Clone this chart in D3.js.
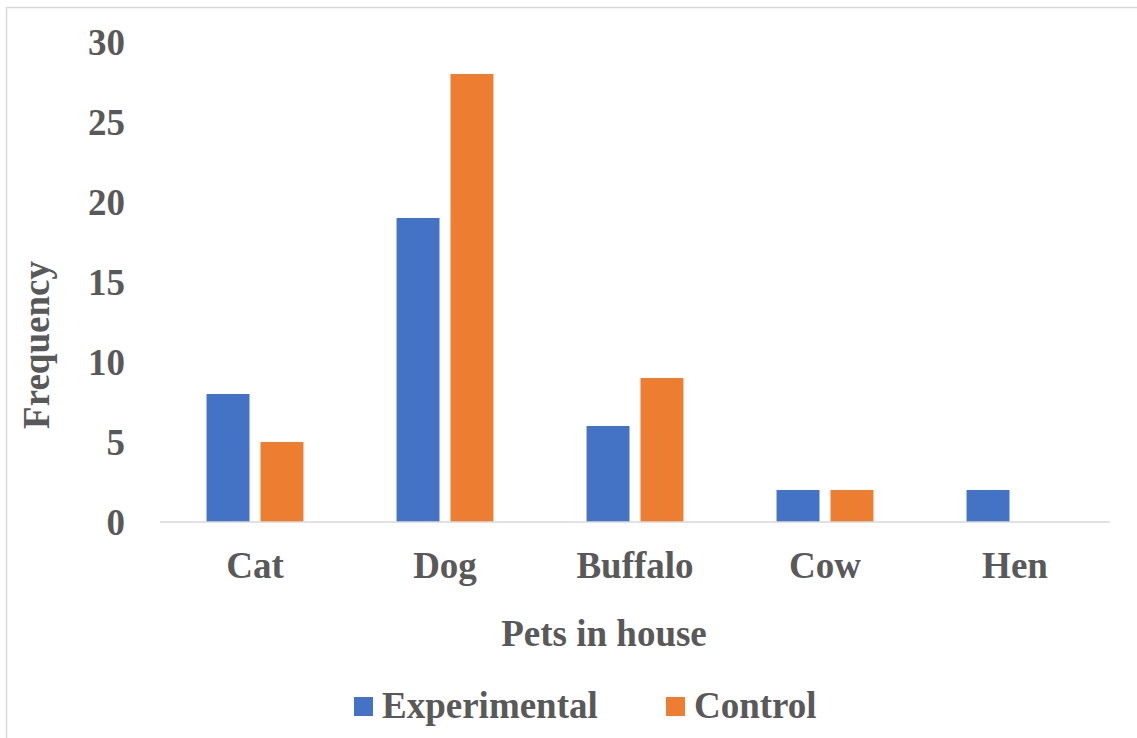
<!DOCTYPE html>
<html>
<head>
<meta charset="utf-8">
<script src="https://cdn.jsdelivr.net/npm/d3@7"></script>
<style>
  html, body { margin: 0; padding: 0; background: #fff; }
  svg { display: block; }
  text { font-family: "Liberation Serif", "Times New Roman", serif; font-weight: bold; fill: #595959; }
</style>
</head>
<body>
<svg id="chart" width="1137" height="738"></svg>
<script>
// Pets kept at home, by study group
const categories = ["Cat", "Dog", "Buffalo", "Cow", "Hen"];
const seriesNames = ["Experimental", "Control"];
const experimental = [8, 19, 6, 2, 2];
const control = [5, 28, 9, 2, 0];
const yTicks = [0, 5, 10, 15, 20, 25, 30];
const seriesColors = ["#4472C4", "#ED7D31"];

const svg = d3.select("#chart");
const W = 1137, H = 738;
const fontSize = 37;

// outer frame
svg.append("rect")
  .attr("x", 6.5).attr("y", 7.5)
  .attr("width", W + 10).attr("height", H + 10)
  .attr("fill", "#fff")
  .attr("stroke", "#d9d9d9").attr("stroke-width", 1.5);

const plot = { left: 160, right: 1110, top: 42, bottom: 522 };

const x = d3.scaleBand()
  .domain(categories)
  .range([plot.left, plot.right])
  .paddingInner(0.49)
  .paddingOuter(0.245);

const xs = d3.scaleBand()
  .domain(seriesNames)
  .range([0, x.bandwidth()])
  .paddingInner(0.204)
  .paddingOuter(0);

const y = d3.scaleLinear()
  .domain([0, 30])
  .range([plot.bottom, plot.top]);

const rows = categories.map((c, i) => ({
  category: c,
  values: [
    { series: seriesNames[0], value: experimental[i] },
    { series: seriesNames[1], value: control[i] }
  ]
}));

// bars
const groups = svg.append("g").selectAll("g")
  .data(rows)
  .join("g")
  .attr("transform", d => `translate(${x(d.category)},0)`);

groups.selectAll("rect")
  .data(d => d.values.filter(v => v.value > 0))
  .join("rect")
  .attr("x", d => xs(d.series))
  .attr("width", xs.bandwidth())
  .attr("y", d => y(d.value))
  .attr("height", d => y(0) - y(d.value))
  .attr("fill", (d) => seriesColors[seriesNames.indexOf(d.series)]);

// category axis
const xAxis = svg.append("g")
  .attr("transform", `translate(0,${plot.bottom})`)
  .call(d3.axisBottom(x).tickSize(0).tickPadding(0));
xAxis.select(".domain").attr("stroke", "#d9d9d9").attr("stroke-width", 1.5)
  .attr("d", `M${plot.left},0H${plot.right}`);
xAxis.selectAll(".tick text")
  .attr("y", 56).attr("dy", 0)
  .style("font-size", fontSize + "px")
  .attr("fill", "#595959");

// value axis (labels only)
const yAxis = svg.append("g")
  .attr("transform", `translate(125,0)`)
  .call(d3.axisLeft(y).tickValues(yTicks).tickSize(0).tickPadding(0));
yAxis.select(".domain").remove();
yAxis.selectAll(".tick text")
  .attr("x", 0).attr("dy", "0.33em")
  .style("font-size", fontSize + "px")
  .attr("fill", "#595959");

// axis titles
svg.append("text")
  .attr("transform", `translate(49,345) rotate(-90)`)
  .attr("text-anchor", "middle")
  .style("font-size", fontSize + "px")
  .text("Frequency");

svg.append("text")
  .attr("x", 604).attr("y", 646)
  .attr("text-anchor", "middle")
  .style("font-size", fontSize + "px")
  .text("Pets in house");

// legend
const legendX = [354, 666];
const legend = svg.append("g").selectAll("g")
  .data(seriesNames)
  .join("g")
  .attr("transform", (d, i) => `translate(${legendX[i]},0)`);
legend.append("rect")
  .attr("x", 0).attr("y", 697)
  .attr("width", 19).attr("height", 19)
  .attr("fill", (d, i) => seriesColors[i]);
legend.append("text")
  .attr("x", 28).attr("y", 718)
  .style("font-size", fontSize + "px")
  .text(d => d);
</script>
</body>
</html>
